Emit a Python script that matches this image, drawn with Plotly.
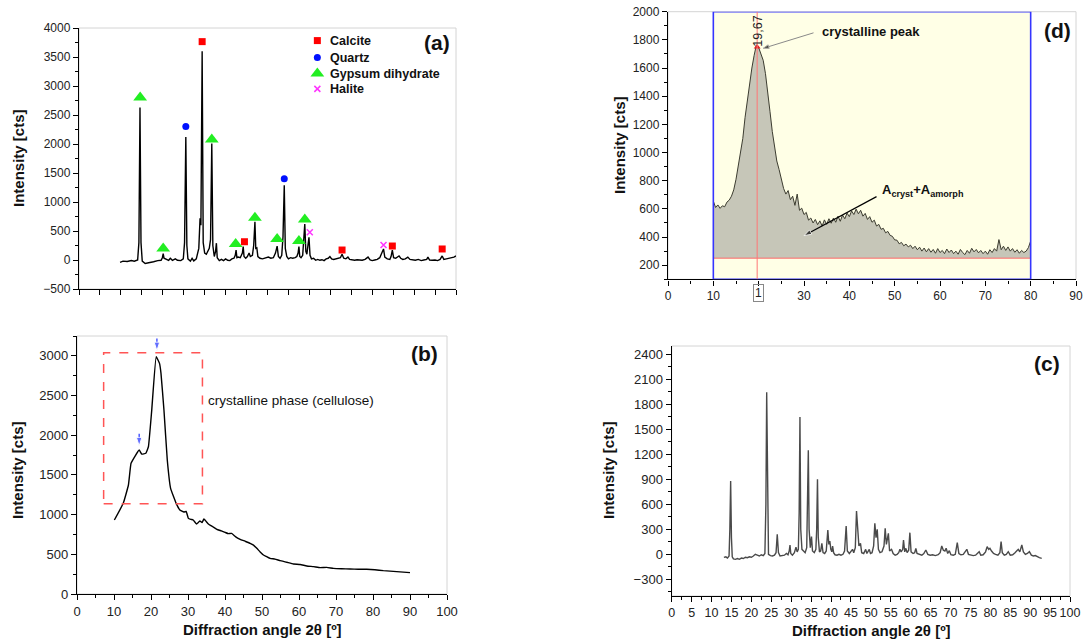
import plotly.graph_objects as go

W, H = 1084, 639
FONT = "Arial, Liberation Sans, sans-serif"


def fx(p):
    return p / W


def fy(p):
    return 1 - p / H


# ---------------- (a) XRD pattern of the mineral sample ----------------
a_angle = [9.8, 10.5, 11.5, 12.5, 13.2, 14.0, 14.3, 14.56, 14.8, 15.1, 15.8, 16.8, 17.8, 18.8, 19.6,
           19.9, 20.1, 20.3, 20.8, 21.4, 21.8, 22.3, 23.0, 23.5, 24.3, 24.9, 25.2, 25.5, 25.75, 26.0,
           26.6, 27.0, 27.4, 28.0, 28.6, 28.9, 29.1, 29.4, 29.65, 30.0, 30.4, 30.8, 31.1, 31.4, 31.7,
           31.95, 32.3, 32.6, 32.8, 33.0, 33.5, 34.0, 34.5, 35.0, 35.5, 36.0, 36.5, 37.0, 37.3, 37.5,
           37.7, 38.0, 38.5, 39.0, 39.2, 39.4, 39.8, 40.2, 40.6, 40.9, 41.4, 41.7, 42.0, 42.2, 42.45,
           42.7, 43.2, 43.8, 44.5, 45.2, 45.8, 46.4, 46.9, 47.3, 47.6, 48.0, 48.4, 48.7, 49.0, 49.25,
           49.6, 50.0, 50.5, 51.0, 51.6, 52.0, 52.3, 52.5, 52.7, 53.0, 53.4, 53.65, 53.9, 54.15, 54.4,
           54.65, 54.9, 55.15, 55.5, 56.0, 56.5, 57.0, 57.5, 58.0, 58.5, 59.0, 59.5, 59.9, 60.3, 60.8,
           61.3, 61.9, 62.4, 62.8, 63.2, 63.7, 64.2, 64.6, 65.2, 65.8, 66.4, 67.0, 67.6, 68.3, 69.0,
           69.5, 70.0, 70.6, 71.2, 71.8, 72.3, 72.7, 73.0, 73.6, 74.2, 74.5, 74.8, 75.1, 75.6, 76.0,
           76.4, 76.8, 77.3, 77.9, 78.5, 79.0, 79.6, 80.3, 81.0, 81.7, 82.3, 83.0, 83.3, 83.7, 84.3,
           85.0, 85.6, 86.2, 86.7, 87.1, 87.7, 88.3, 89.0, 89.5, 90.0]
a_intensity = [-40, -20, -25, -10, -20, 0, 300, 2630, 300, -20, -60, -50, -30, -10, -5,
               40, 110, 30, 10, -5, 30, -5, 20, -5, -10, 20, 300, 2120, 250, 20,
               -20, 30, -15, 20, 200, 720, 600, 3600, 300, 120, 100, 160, 200, 350, 2010,
               250, 60, 150, 290, 40, -10, 10, -10, 20, -5, -10, 20, 30, 80, 170,
               40, 50, 40, 120, 230, 60, 30, 60, 120, 60, 80, 250, 660, 200, 210,
               60, 30, 20, 40, 50, 30, 40, 120, 240, 60, 30, 80, 400, 1290, 200,
               60, 20, 40, 30, 40, 60, 120, 230, 60, 40, 80, 300, 620, 150, 100,
               250, 390, 80, 20, 30, -5, 10, -5, 5, -10, 20, 30, 60, 20, 10,
               20, 30, 40, 100, 30, 20, 50, 10, 0, -5, 5, 0, -5, 10, 50,
               0, -10, 0, 10, 40, 110, 190, 50, 20, 10, 60, 170, 40, 30, 50,
               70, 30, 10, 20, 50, 10, 0, -5, 10, -10, 0, 10, 50, 0, -5,
               0, -10, 10, 70, 10, 20, 30, 40, 50, 70]

# phase identification marks
calcite_angle = [29.4, 39.5, 62.8, 74.8, 86.7]
calcite_level = [3765, 315, 172, 241, 190]
quartz_angle = [25.5, 49.0]
quartz_level = [2300, 1400]
gypsum_angle = [14.6, 20.1, 31.7, 37.4, 42.0, 47.3, 52.5, 53.9]
gypsum_level = [2800, 200, 2078, 275, 730, 360, 327, 700]
halite_angle = [55.1, 72.7]
halite_level = [477, 258]

phase_names = ["Calcite", "Quartz", "Gypsum dihydrate", "Halite"]
key_angle = 56.9
key_level = [3783, 3490, 3214, 2950]

# ---------------- (b) cellulose pattern ----------------
b_angle = [10.1, 12.5, 13.9, 14.6, 15.7, 16.8, 17.5, 18.6, 19.3, 20.2, 21.4, 22.3, 22.7, 23.5,
           24.4, 25.3, 26.8, 27.8, 28.9, 29.5, 30.1, 30.8, 31.4, 32.3, 33.2, 33.8, 34.3, 35.5,
           36.6, 37.8, 39.0, 40.0, 40.9, 41.8, 42.9, 44.1, 45.4, 46.8, 47.7, 48.6, 49.5, 50.4,
           51.3, 52.2, 53.5, 54.9, 56.7, 58.5, 60.3, 62.1, 63.9, 65.7, 67.5, 69.3, 71.5, 73.8,
           76.0, 78.3, 80.5, 82.8, 86.4, 90.0]
b_intensity = [932, 1142, 1373, 1646, 1738, 1814, 1763, 1772, 1855, 2317, 2989, 2905, 2779, 2317,
               1688, 1331, 1142, 1058, 1033, 1040, 953, 940, 932, 882, 920, 900, 945, 882,
               850, 815, 795, 777, 760, 764, 720, 689, 665, 638, 615, 575, 530, 491,
               470, 449, 440, 420, 400, 378, 372, 353, 345, 332, 335, 323, 318, 315,
               312, 311, 305, 294, 282, 269]
b_peaks_angle = [16.8, 21.6]
b_peaks_level = [1830, 3030]
b_arrow_rise = 190

# ---------------- (c) XRD pattern of the residue ----------------
c_angle = [13.1, 13.6, 14.0, 14.4, 14.6, 14.8, 15.0, 15.2, 15.5, 16.0, 16.5, 17.0, 17.5, 18.0, 18.5,
           19.0, 19.5, 20.0, 20.5, 21.0, 21.5, 22.0, 22.5, 23.0, 23.4, 23.65, 23.85, 24.05, 24.3, 24.8,
           25.3, 25.8, 26.2, 26.5, 26.8, 27.2, 27.8, 28.3, 28.8, 29.2, 29.5, 29.7, 29.9, 30.3, 30.8,
           31.2, 31.5, 31.8, 32.0, 32.2, 32.4, 32.7, 33.1, 33.5, 33.9, 34.1, 34.3, 34.5, 34.8, 35.1,
           35.35, 35.8, 36.2, 36.4, 36.6, 36.8, 37.1, 37.4, 37.7, 38.0, 38.4, 38.8, 39.2, 39.45, 39.7,
           39.95, 40.2, 40.4, 40.65, 41.0, 41.5, 42.0, 42.5, 43.0, 43.4, 43.8, 44.1, 44.6, 45.0, 45.4,
           45.7, 46.1, 46.4, 46.7, 47.0, 47.4, 47.7, 48.2, 48.7, 49.0, 49.6, 49.9, 50.3, 50.7, 51.0,
           51.3, 51.6, 51.9, 52.3, 52.8, 53.3, 53.6, 53.9, 54.4, 54.7, 55.2, 55.6, 56.1, 56.6, 57.0,
           57.3, 57.6, 58.0, 58.2, 58.5, 58.8, 59.1, 59.5, 59.8, 60.1, 60.6, 61.0, 61.3, 61.6, 62.2,
           62.8, 63.3, 63.8, 64.3, 64.9, 65.5, 66.2, 66.9, 67.4, 67.8, 68.2, 68.6, 68.9, 69.3, 69.7,
           70.1, 70.7, 71.2, 71.7, 72.1, 72.6, 73.2, 73.7, 74.1, 74.5, 75.1, 75.7, 76.3, 76.8, 77.2,
           77.6, 78.2, 78.8, 79.2, 79.6, 79.9, 80.3, 80.8, 81.3, 81.9, 82.4, 82.7, 83.0, 83.5, 84.0,
           84.5, 85.0, 85.6, 86.2, 86.6, 87.0, 87.4, 87.9, 88.3, 88.8, 89.3, 89.8, 90.3, 90.8, 91.3,
           91.8, 92.3, 92.9]
c_intensity = [-36, -30, -45, -20, 300, 880, 200, -30, -55, -60, -50, -60, -45, -50, -35,
               -40, -30, -35, -20, 0, -10, -20, -5, -15, 10, 600, 1944, 500, 0, -15,
               -20, -10, 20, 240, 20, -20, -15, -10, 10, -5, 40, 110, 10, -10, 20,
               85, 30, 60, 500, 1648, 300, 60, 40, 20, 80, 500, 1248, 300, 80, 212,
               40, 20, 60, 300, 900, 200, 30, 40, 132, 20, 10, 40, 292, 120, 160,
               60, 30, 100, 20, -5, -10, 0, -10, 0, 40, 340, 40, 10, 30, 60,
               20, 80, 520, 352, 100, 132, 20, 10, 60, 10, 60, 10, 20, 100, 372,
               200, 300, 60, 20, 30, 100, 312, 120, 252, 40, 60, 10, -10, 0, 20,
               60, 30, 60, 172, 30, 72, 20, 50, 260, 30, 10, 20, 72, 10, -5,
               -10, 10, 52, 0, -10, -5, -15, -5, 20, 100, 50, 40, 72, 10, 44,
               -5, -10, 0, 140, 10, -5, 0, 30, 60, 0, -10, -15, -10, 10, 32,
               -10, -5, 30, 92, 60, 72, 40, 10, 0, -10, 20, 152, 20, -10, 0,
               32, -10, -5, 20, 40, 60, 30, 112, 30, 0, 10, 32, -10, -20, -15,
               -30, -40, -48]

# ---------------- (d) crystallinity evaluation ----------------
d_angle = [10.0, 10.5, 11.0, 11.5, 12.0, 12.5, 13.0, 13.5, 14.0, 14.5, 15.0, 15.5, 16.0, 16.5, 17.0,
           17.5, 18.0, 18.5, 19.0, 19.5, 20.0, 20.5, 21.0, 21.5, 22.0, 22.5, 23.0, 23.5, 24.0, 24.5,
           25.0, 25.5, 26.0, 26.5, 27.0, 27.5, 28.0, 28.5, 29.0, 29.5, 30.0, 30.5, 31.0, 31.5, 32.0,
           32.5, 33.0, 33.5, 34.0, 34.5, 35.0, 35.5, 36.0, 36.5, 37.0, 37.5, 38.0, 38.5, 39.0, 39.5,
           40.0, 40.5, 41.0, 41.5, 42.0, 42.5, 43.0, 43.5, 44.0, 44.5, 45.0, 45.5, 46.0, 46.5, 47.0,
           47.5, 48.0, 48.5, 49.0, 49.5, 50.0, 50.5, 51.0, 51.5, 52.0, 52.5, 53.0, 53.5, 54.0, 54.5,
           55.0, 55.5, 56.0, 56.5, 57.0, 57.5, 58.0, 58.5, 59.0, 59.5, 60.0, 60.5, 61.0, 61.5, 62.0,
           62.5, 63.0, 63.5, 64.0, 64.5, 65.0, 65.5, 66.0, 66.5, 67.0, 67.5, 68.0, 68.5, 69.0, 69.5,
           70.0, 70.5, 71.0, 71.5, 72.0, 72.5, 73.0, 73.5, 74.0, 74.5, 75.0, 75.5, 76.0, 76.5, 77.0,
           77.5, 78.0, 78.5, 79.0, 79.5, 80.0]
d_intensity = [655, 610, 628, 604, 622, 615, 648, 662, 690, 735, 810, 905, 1010, 1100, 1250,
               1380, 1470, 1600, 1690, 1765, 1745, 1700, 1655, 1560, 1440, 1290, 1150, 1060, 940, 880,
               800, 745, 705, 730, 665, 690, 625, 705, 590, 605, 560, 575, 520, 535, 500,
               525, 488, 515, 478, 522, 490, 530, 498, 535, 505, 548, 512, 556, 530, 570,
               545, 585, 560, 598, 565, 590, 548, 568, 525, 545, 505, 520, 478, 490, 455,
               462, 430, 440, 412, 405, 380, 378, 352, 362, 338, 350, 330, 342, 318, 335,
               310, 328, 300, 322, 295, 318, 292, 312, 285, 318, 290, 305, 282, 315, 290,
               308, 282, 300, 278, 312, 290, 275, 305, 285, 320, 295, 312, 288, 305, 282,
               300, 278, 310, 290, 318, 300, 382, 310, 335, 305, 330, 300, 318, 292, 310,
               285, 305, 290, 300, 325, 372]
d_base_angle = [10, 80]
d_base_level = [250, 250]
d_peak_angle = 19.67
d_peak_level = 1750

fig = go.Figure()

# (a)
fig.add_trace(go.Scatter(x=a_angle, y=a_intensity, xaxis="x", yaxis="y", mode="lines",
                         line=dict(color="black", width=1.4)))
mark_styles = [
    (calcite_angle, calcite_level, dict(symbol="square", size=7, color="#ff0000")),
    (quartz_angle, quartz_level, dict(symbol="circle", size=7, color="#0010ff")),
    (gypsum_angle, gypsum_level, dict(symbol="triangle-up", size=12, color="#22ee22")),
    (halite_angle, halite_level, dict(symbol="x-thin", size=6, color="#ff33ff",
                                      line=dict(width=1.5, color="#ff33ff"))),
]
for i, (xs, ys, mk) in enumerate(mark_styles):
    fig.add_trace(go.Scatter(x=xs, y=ys, xaxis="x", yaxis="y", mode="markers", marker=mk))
    fig.add_trace(go.Scatter(x=[key_angle], y=[key_level[i]], xaxis="x", yaxis="y",
                             mode="markers", marker=mk))

# (b)
fig.add_trace(go.Scatter(x=b_angle, y=b_intensity, xaxis="x2", yaxis="y2", mode="lines",
                         line=dict(color="black", width=1.4, shape="spline", smoothing=0.3)))
for xa, ya in zip(b_peaks_angle, b_peaks_level):
    fig.add_trace(go.Scatter(x=[xa, xa], y=[ya + b_arrow_rise, ya + 35], xaxis="x2", yaxis="y2",
                             mode="lines+markers", line=dict(color="#2233ff", width=1.2),
                             marker=dict(symbol="arrow", angleref="previous", size=[0, 9],
                                         color="#2233ff")))


def arrow(x0, y0, x1, y1, color, width, size):
    """Straight pointer on panel (d) ending in an arrowhead at (x1, y1)."""
    fig.add_trace(go.Scatter(x=[x0, x1], y=[y0, y1], xaxis="x3", yaxis="y3",
                             mode="lines+markers", line=dict(color=color, width=width),
                             marker=dict(symbol="arrow", angleref="previous", size=[0, size],
                                         color="black")))


# (d)
fig.add_trace(go.Scatter(x=d_base_angle, y=d_base_level, xaxis="x3", yaxis="y3", mode="lines",
                         line=dict(color="#ff6b6b", width=1)))
fig.add_trace(go.Scatter(x=d_angle, y=d_intensity, xaxis="x3", yaxis="y3", mode="lines",
                         fill="tonexty", fillcolor="#c6c6b8",
                         line=dict(color="#3c3c30", width=1)))
fig.add_trace(go.Scatter(x=[d_peak_angle], y=[d_peak_level], xaxis="x3", yaxis="y3",
                         mode="markers", marker=dict(symbol="triangle-up", size=6, color="#e02020")))
arrow(32.1, 1850, 21.0, 1740, "#8a8a8a", 1, 6)
arrow(46.0, 687, 30.0, 410, "black", 1.2, 8)

# (c)
fig.add_trace(go.Scatter(x=c_angle, y=c_intensity, xaxis="x4", yaxis="y4", mode="lines",
                         line=dict(color="#4a4a4a", width=1.4)))


def axis(domain, rng, anchor, size, **kw):
    d = dict(domain=domain, range=rng, anchor=anchor, showline=True, linecolor="black",
             linewidth=1.4, ticks="outside", ticklen=5, tickwidth=1.2, tickcolor="black",
             showgrid=False, zeroline=False, automargin=False, tickangle=0,
             tickfont=dict(family=FONT, size=size, color="#222"))
    d.update(kw)
    return d


minor = lambda dt: dict(ticks="outside", ticklen=3, dtick=dt, tickcolor="black", tickwidth=1)

dom_a = ([fx(79), fx(456)], [fy(289), fy(28)])
dom_b = ([fx(77), fx(447)], [fy(594), fy(336)])
dom_d = ([fx(668), fx(1076)], [fy(279.3), fy(11.7)])
dom_c = ([fx(671.7), fx(1070)], [fy(596), fy(346)])

d_ticks = [0, 10, 20, 30, 40, 50, 60, 70, 80, 90]
d_tick_text = ["0", "10", "", "30", "40", "50", "60", "70", "80", "90"]

fig.update_layout(
    width=W, height=H, margin=dict(l=0, r=0, t=0, b=0),
    paper_bgcolor="white", plot_bgcolor="white", showlegend=False,
    font=dict(family=FONT, color="#222"),
    xaxis=axis(dom_a[0], [0, 90], "y", 12, dtick=5, showticklabels=False),
    yaxis=axis(dom_a[1], [-500, 4000], "x", 12, dtick=500, minor=minor(250)),
    xaxis2=axis(dom_b[0], [0, 100], "y2", 13, dtick=10, minor=minor(5)),
    yaxis2=axis(dom_b[1], [0, 3250], "x2", 13, dtick=500, minor=minor(250)),
    xaxis3=axis(dom_d[0], [0, 90], "y3", 12, tickmode="array", tickvals=d_ticks,
                ticktext=d_tick_text, minor=minor(5)),
    yaxis3=axis(dom_d[1], [100, 2000], "x3", 12, dtick=200, tick0=0, minor=minor(100)),
    xaxis4=axis(dom_c[0], [0, 100], "y4", 12.5, dtick=5, minor=minor(2.5)),
    yaxis4=axis(dom_c[1], [-500, 2500], "x4", 13, dtick=300, tick0=0, minor=minor(150)),
)

shapes = []
# light frame on the top/right of every panel
for xa, ya in [("x", "y"), ("x2", "y2"), ("x3", "y3"), ("x4", "y4")]:
    shapes.append(dict(type="rect", xref=f"{xa} domain", yref=f"{ya} domain", x0=0, x1=1, y0=0, y1=1,
                       line=dict(color="#d4d4d4", width=1), layer="below"))
# (b) crystalline region
shapes.append(dict(type="rect", xref="x2", yref="y2", x0=7.2, x1=33.9, y0=1137, y1=3040,
                   line=dict(color="#ff5555", width=1.5, dash="dash")))
# (d) integration window
shapes.append(dict(type="rect", xref="x3", yref="y3", x0=10, x1=80, y0=100, y1=2000,
                   fillcolor="#ffffe6", line=dict(width=0), layer="below"))
shapes.append(dict(type="rect", xref="x3", yref="y3", x0=10, x1=80, y0=100, y1=2000,
                   line=dict(color="#3535ff", width=1.6)))
shapes.append(dict(type="line", xref="x3", yref="y3", x0=d_peak_angle, x1=d_peak_angle,
                   y0=100, y1=2000, line=dict(color="#ff7777", width=1)))
fig.update_layout(shapes=shapes)

ann = []


def label(text, x, y, size, bold=True, **kw):
    t = f"<b>{text}</b>" if bold else text
    d = dict(text=t, x=fx(x), y=fy(y), xref="paper", yref="paper", showarrow=False,
             xanchor="center", yanchor="middle",
             font=dict(family=FONT, size=size, color="#111"))
    d.update(kw)
    ann.append(d)


# panel letters
label("(a)", 437, 42, 21)
label("(b)", 424, 353, 21)
label("(d)", 1057, 30, 21)
label("(c)", 1047, 363, 21)

# axis titles
for xc, yc in [(18, 158), (17, 470), (620, 145), (608, 470)]:
    label("Intensity [cts]", xc, yc, 15, textangle=-90)
label("Diffraction angle 2θ [º]", 262, 629, 15)
label("Diffraction angle 2θ [º]", 871, 630, 15)

# (a) phase key
for name, lvl in zip(phase_names, key_level):
    ann.append(dict(text=f"<b>{name}</b>", x=59.4, y=lvl, xref="x", yref="y", xanchor="left",
                    yanchor="middle", showarrow=False,
                    font=dict(family=FONT, size=12.5, color="#111")))

# (b) note
ann.append(dict(text="crystalline phase (cellulose)", x=34.8, y=2443, xref="x2", yref="y2",
                xanchor="left", yanchor="middle", showarrow=False,
                font=dict(family=FONT, size=13.5, color="#111")))

# (d) notes
ann.append(dict(text="19,67", x=19.9, y=1860, xref="x3", yref="y3", textangle=-90,
                xanchor="center", yanchor="middle", showarrow=False,
                font=dict(family=FONT, size=12.5, color="#222")))
ann.append(dict(text="<b>crystalline peak</b>", x=33.6, y=1860, xref="x3", yref="y3",
                xanchor="left", yanchor="middle", showarrow=False,
                font=dict(family=FONT, size=13, color="#111")))
ann.append(dict(text="<b>A<sub>cryst</sub>+A<sub>amorph</sub></b>", x=46.8, y=730, xref="x3",
                yref="y3", xanchor="left", yanchor="middle", showarrow=False,
                font=dict(family=FONT, size=13, color="#111")))
ann.append(dict(text="1", x=fx(758), y=fy(293), xref="paper", yref="paper", showarrow=False,
                xanchor="center", yanchor="middle",
                bordercolor="#888", borderwidth=1, borderpad=1,
                font=dict(family=FONT, size=12, color="#222")))

fig.update_layout(annotations=ann)
fig.update_traces(hoverinfo="skip")

fig.write_html("out.html")
